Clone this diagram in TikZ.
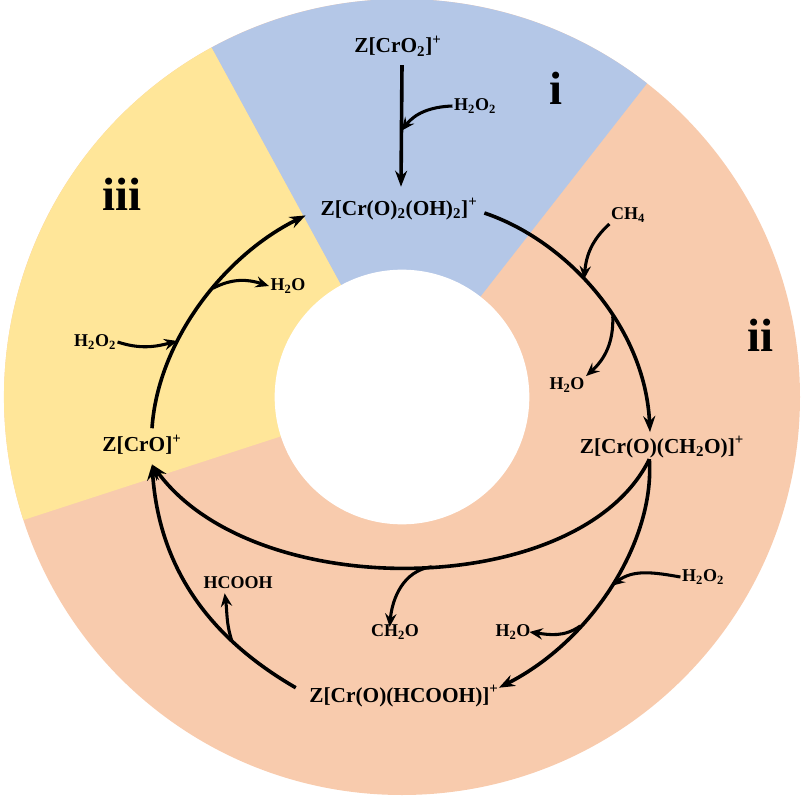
\documentclass[tikz,border=0pt]{standalone}
\usepackage{fontspec}
\setmainfont{Liberation Serif}
\usepackage{tikz}
\usetikzlibrary{arrows.meta, positioning, calc}
\definecolor{PhaseBlue}{HTML}{B4C7E7}
\definecolor{PhaseYellow}{HTML}{FFE699}
\definecolor{PhasePeach}{HTML}{F8CBAD}
\newcommand{\sub}[1]{\textsubscript{#1}}
\newcommand{\chg}{\textsuperscript{+}}

\begin{document}
\begin{tikzpicture}[x=0.75pt, y=-0.75pt,
		spc/.style={font=\bfseries\fontsize{16}{18}\selectfont, inner sep=1pt},
		mol/.style={font=\bfseries\fontsize{13.5}{15}\selectfont, inner sep=1pt},
		phase/.style={font=\bfseries\fontsize{35}{38}\selectfont, inner sep=0pt},
		arr/.style={-{Stealth[length=12pt, width=9pt, inset=4pt]}, line width=2.7pt},
		sidearr/.style={-{Stealth[length=10pt, width=8.5pt, inset=3.5pt]}, line width=2.3pt}]
	\useasboundingbox (0,0) rectangle (808,803);
	% ring
	\coordinate (ringc) at (402,397);
	\fill[PhasePeach] (ringc) circle[radius=298.5pt];
	\fill[PhaseBlue] (ringc) -- ++(118.6:298.5pt) arc[start angle=118.6, end angle=52, radius=298.5pt] -- cycle;
	\fill[PhaseYellow] (ringc) -- ++(118.6:298.5pt) arc[start angle=118.6, end angle=198, radius=298.5pt] -- cycle;
	\fill[white] (ringc) circle[radius=95.5pt];
	\node[phase] (pi) at (556,88) {i};
	\node[phase] (pii) at (760,335) {ii};
	\node[phase] (piii) at (122,194) {iii};
	% species
	\node[spc] (crotwo) at (398,46) {Z[CrO\sub{2}]\chg};
	\node[spc] (dioh) at (399,209) {Z[Cr(O)\sub{2}(OH)\sub{2}]\chg};
	\node[spc] (cho) at (662,447) {Z[Cr(O)(CH\sub{2}O)]\chg};
	\node[spc] (formic) at (404,696) {Z[Cr(O)(HCOOH)]\chg};
	\node[spc] (cro) at (142,445) {Z[CrO]\chg};
	% reagents
	\node[mol] (peroxa) at (475,106) {H\sub{2}O\sub{2}};
	\node[mol] (methane) at (628,215) {CH\sub{4}};
	\node[mol] (watera) at (567,385) {H\sub{2}O};
	\node[mol] (peroxb) at (703,577) {H\sub{2}O\sub{2}};
	\node[mol] (waterb) at (513,632) {H\sub{2}O};
	\node[mol] (formald) at (395,632) {CH\sub{2}O};
	\node[mol] (hcooh) at (238,583) {HCOOH};
	\node[mol] (peroxc) at (95,342) {H\sub{2}O\sub{2}};
	\node[mol] (waterc) at (288,286) {H\sub{2}O};
	% cycle
	\draw[arr] ([xshift=3pt, yshift=-5.5pt]crotwo.south) -- coordinate[pos=0.54] (ja) ([xshift=1.5pt, yshift=7.5pt]dioh.north);
	\draw[arr] ([xshift=4pt, yshift=-3pt]dioh.east) .. controls (565,240) and (645,325) .. coordinate[pos=0.44] (jb) coordinate[pos=0.6] (jc) ([xshift=-9pt, yshift=2pt]cho.north);
	\draw[arr] ([xshift=-9.5pt]cho.south) .. controls (655,540) and (593,640) .. coordinate[pos=0.5] (jd) coordinate[pos=0.67] (je) ([xshift=-1pt, yshift=-3pt]formic.north east);
	\draw[arr] ([xshift=-9.5pt]cho.south) .. controls (580,600) and (255,605) .. coordinate[pos=0.47] (jf) ([xshift=7.5pt, yshift=-6pt]cro.south);
	\draw[arr] ([xshift=-9pt, yshift=-3pt]formic.north west) .. controls (222,645) and (160,580) .. coordinate[pos=0.31] (jg) ([xshift=7.5pt, yshift=-6pt]cro.south);
	\draw[arr] ([xshift=7.5pt, yshift=4pt]cro.north) .. controls (158,340) and (225,255) .. coordinate[pos=0.34] (jh) coordinate[pos=0.57] (ji) ([xshift=-10pt, yshift=-14pt]dioh.north west);
	% side arrows
	\draw[sidearr] (peroxa.west) to[out=182, in=52] (ja);
	\draw[sidearr] (methane.south west) to[out=222, in=85] (jb);
	\draw[sidearr] (jc) to[out=-88, in=42] (watera.north east);
	\draw[sidearr] (peroxb.west) to[out=170, in=38] (jd);
	\draw[sidearr] (je) to[out=215, in=-8] ([xshift=-2pt]waterb.east);
	\draw[sidearr] (jf) to[out=188, in=85] ([xshift=-4pt, yshift=-3pt]formald.north);
	\draw[sidearr] (jg) to[out=108, in=-82] ([xshift=-10pt, yshift=-2pt]hcooh.south);
	\draw[sidearr] (peroxc.east) to[out=-18, in=195] (jh);
	\draw[sidearr] (ji) to[out=28, in=162] (waterc.west);
\end{tikzpicture}
\end{document}
